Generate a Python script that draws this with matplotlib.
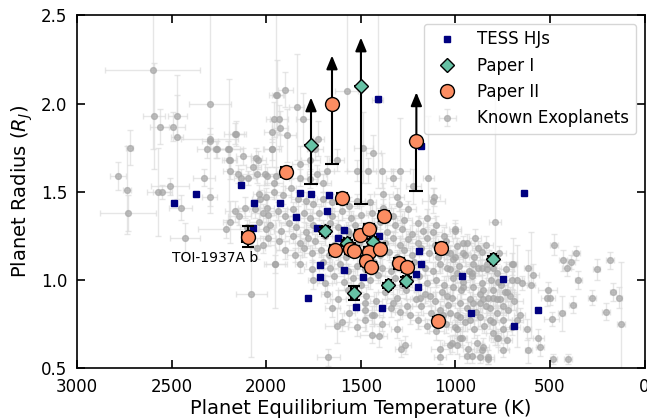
import matplotlib
matplotlib.use("Agg")
import matplotlib.pyplot as plt
import numpy as np

# ---------------- data ----------------
# Known exoplanets: (Teq, Rp, Teq_err, Rp_err)
known_left = [
    (2600, 2.19, 250, 0.45), (2298, 2.00, 110, 0.62), (2593, 1.93, 60, 0.30),
    (2471, 1.93, 50, 0.12), (2563, 1.87, 50, 0.10), (2491, 1.87, 60, 0.08),
    (2471, 1.81, 30, 0.35), (2159, 1.83, 40, 0.07), (2298, 1.80, 150, 0.06),
    (2264, 1.74, 50, 0.05), (2198, 1.74, 60, 0.40), (2195, 1.68, 40, 0.05),
    (2189, 1.62, 40, 0.05), (2722, 1.75, 20, 0.10), (2783, 1.59, 40, 0.08),
    (2736, 1.51, 20, 0.25), (2730, 1.38, 150, 0.10), (2570, 1.50, 60, 0.25),
    (2549, 1.50, 50, 0.04), (2508, 1.53, 100, 0.05), (2452, 1.41, 60, 0.07),
    (2429, 1.24, 80, 0.08), (2329, 1.58, 60, 0.05), (2298, 1.47, 40, 0.05),
    (2131, 1.58, 40, 0.05), (2052, 1.69, 30, 0.06), (2094, 1.58, 40, 0.04),
    (2048, 1.60, 50, 0.05), (2004, 1.60, 60, 0.06), (2038, 1.49, 30, 0.05),
    (2034, 1.46, 40, 0.05), (2110, 1.41, 40, 0.06), (1996, 1.41, 40, 0.05),
    (2166, 1.39, 50, 0.06), (2142, 1.36, 60, 0.05), (2189, 1.33, 40, 0.12),
    (2212, 1.29, 150, 0.05), (2018, 1.38, 60, 0.05), (2040, 1.33, 50, 0.05),
    (2001, 1.29, 40, 0.06), (1960, 1.55, 50, 0.05), (1948, 1.59, 40, 0.05),
    (2015, 1.20, 60, 0.05), (2048, 1.18, 40, 0.06), (1952, 1.09, 60, 0.25),
    (2078, 0.92, 80, 0.36), (1946, 2.05, 40, 0.50), (1960, 1.91, 40, 0.10),
    (1969, 1.74, 50, 0.10),
]
known_upper = [
    (1839, 1.98, 40, 0.30), (1574, 2.07, 60, 0.45), (1932, 1.91, 50, 0.08),
    (1927, 1.86, 40, 0.10), (1971, 1.84, 40, 0.06), (1892, 1.82, 50, 0.15),
    (1941, 2.05, 30, 0.20), (1900, 2.08, 40, 0.10), (2165, 1.83, 60, 0.06),
    (2200, 1.74, 80, 0.05), (2262, 1.74, 60, 0.05), (2314, 1.74, 50, 0.05),
    (2297, 1.79, 40, 0.04), (2191, 1.68, 30, 0.07), (2121, 1.70, 40, 0.05),
    (2147, 1.60, 50, 0.05), (2068, 1.64, 40, 0.06), (1997, 1.59, 50, 0.05),
    (1971, 1.74, 40, 0.06), (2042, 1.68, 40, 0.05), (1804, 1.91, 40, 0.15),
    (1742, 1.74, 40, 0.06), (1768, 1.68, 50, 0.05), (1821, 1.66, 40, 0.10),
    (1724, 1.80, 30, 0.10), (1680, 1.62, 40, 0.08), (1627, 1.68, 40, 0.06),
    (1733, 1.60, 50, 0.05), (1768, 1.57, 40, 0.05), (1698, 1.55, 40, 0.05),
    (1821, 1.58, 60, 0.05), (1486, 1.75, 50, 0.20), (1434, 1.72, 40, 0.10),
    (1521, 1.62, 50, 0.06), (1460, 1.62, 40, 0.07), (1389, 1.62, 60, 0.10),
    (1328, 1.58, 40, 0.05), (1292, 1.62, 50, 0.30), (1381, 1.49, 50, 0.06),
    (1310, 1.47, 40, 0.05), (1222, 1.53, 40, 0.10), (1143, 1.58, 30, 0.35),
    (1116, 1.45, 60, 0.07), (1410, 2.02, 30, 0.50), (1111, 1.47, 30, 0.05),
]
known_right = [
    (790, 1.33, 30, 0.70), (896, 1.24, 30, 0.05), (477, 1.20, 20, 0.06),
    (362, 1.15, 20, 0.04), (432, 1.11, 20, 0.06), (411, 1.07, 25, 0.05),
    (390, 1.10, 20, 0.04), (617, 1.07, 20, 0.10), (697, 1.09, 20, 0.15),
    (253, 1.06, 20, 0.06), (182, 1.11, 20, 0.05), (350, 1.00, 20, 0.05),
    (588, 1.03, 30, 0.06), (601, 0.97, 20, 0.30), (512, 0.94, 50, 0.05),
    (499, 0.90, 25, 0.04), (279, 0.90, 20, 0.04), (165, 0.93, 15, 0.05),
    (133, 0.90, 15, 0.06), (205, 0.82, 20, 0.05), (380, 0.86, 20, 0.05),
    (438, 0.81, 20, 0.10), (491, 0.78, 40, 0.04), (517, 0.90, 30, 0.05),
    (124, 0.75, 20, 0.35), (620, 0.72, 20, 0.06), (672, 0.77, 30, 0.15),
    (561, 0.67, 30, 0.05), (552, 0.62, 20, 0.05), (614, 0.60, 20, 0.07),
    (482, 0.55, 20, 0.03), (403, 0.55, 20, 0.03),
]
known_midright = [
    (1002, 1.29, 30, 0.05), (958, 1.21, 40, 0.04), (1028, 1.15, 30, 0.05),
    (1002, 1.13, 40, 0.04), (949, 1.14, 30, 0.06), (905, 1.09, 40, 0.05),
    (861, 1.07, 30, 0.04), (1046, 1.07, 40, 0.05), (993, 1.04, 30, 0.06),
    (914, 1.04, 40, 0.04), (834, 1.06, 30, 0.05), (799, 1.07, 40, 0.05),
    (702, 1.09, 30, 0.06), (676, 1.00, 40, 0.20), (773, 0.99, 30, 0.05),
    (728, 0.93, 40, 0.05), (799, 0.94, 30, 0.04), (852, 0.94, 30, 0.05),
    (905, 0.96, 40, 0.05), (958, 0.96, 30, 0.04), (1011, 0.96, 40, 0.06),
    (1046, 0.91, 30, 0.05), (975, 0.87, 40, 0.05), (905, 0.87, 30, 0.04),
    (852, 0.89, 40, 0.05), (764, 0.89, 30, 0.05), (817, 0.84, 40, 0.04),
    (870, 0.79, 30, 0.05), (922, 0.77, 40, 0.05), (975, 0.79, 30, 0.04),
    (1028, 0.81, 40, 0.05), (817, 0.77, 30, 0.05), (746, 0.72, 40, 0.06),
    (728, 0.66, 30, 0.05), (781, 0.67, 40, 0.04), (852, 0.62, 30, 0.05),
    (914, 0.57, 40, 0.04), (975, 0.67, 30, 0.05), (1028, 0.63, 40, 0.05),
    (931, 0.61, 30, 0.04), (870, 0.56, 40, 0.03), (826, 0.55, 30, 0.03),
]
known_bottom = [
    (1953, 1.09, 50, 0.05), (1627, 0.74, 60, 0.10), (1672, 0.56, 60, 0.05),
    (1442, 0.69, 60, 0.05), (1402, 0.68, 40, 0.06), (1289, 0.61, 30, 0.05),
    (1266, 0.63, 30, 0.05), (1081, 0.61, 50, 0.05), (1081, 0.56, 30, 0.04),
    (993, 0.63, 30, 0.05), (940, 0.57, 40, 0.04), (887, 0.64, 30, 0.05),
    (861, 0.60, 30, 0.04), (826, 0.56, 30, 0.04), (773, 0.67, 40, 0.05),
    (746, 0.60, 30, 0.04), (799, 0.76, 30, 0.05), (1063, 0.80, 40, 0.05),
    (993, 0.72, 30, 0.05), (966, 0.67, 30, 0.04), (1019, 0.64, 40, 0.05),
    (870, 0.87, 30, 0.05), (826, 0.90, 40, 0.04), (781, 0.89, 30, 0.05),
    (711, 0.91, 30, 0.05), (746, 0.85, 40, 0.05), (1328, 0.87, 40, 0.05),
    (1257, 0.85, 30, 0.04), (1187, 0.90, 40, 0.05), (1134, 0.91, 30, 0.05),
    (1478, 0.87, 50, 0.05), (1442, 0.80, 40, 0.05), (1478, 0.77, 40, 0.06),
]
known_dense = [
    (2000, 1.47, 40, 0.05), (1960, 1.50, 50, 0.04), (1910, 1.48, 40, 0.05),
    (1870, 1.52, 30, 0.05), (1830, 1.46, 40, 0.04), (1790, 1.45, 50, 0.05),
    (1750, 1.43, 40, 0.05), (1700, 1.46, 30, 0.04), (1650, 1.44, 40, 0.05),
    (1560, 1.42, 50, 0.05), (1520, 1.45, 40, 0.04), (1450, 1.44, 30, 0.05),
    (1380, 1.41, 40, 0.05), (1300, 1.43, 50, 0.04), (1250, 1.40, 40, 0.05),
    (2060, 1.40, 30, 0.05), (1990, 1.37, 40, 0.04), (1940, 1.39, 50, 0.05),
    (1900, 1.36, 40, 0.05), (1860, 1.40, 30, 0.04), (1800, 1.38, 40, 0.05),
    (1770, 1.35, 50, 0.05), (1720, 1.38, 40, 0.04), (1650, 1.36, 30, 0.05),
    (1600, 1.39, 40, 0.05), (1550, 1.35, 50, 0.04), (1500, 1.37, 40, 0.05),
    (1440, 1.38, 30, 0.05), (1400, 1.33, 40, 0.04), (1330, 1.36, 50, 0.05),
    (1270, 1.34, 40, 0.05), (1200, 1.32, 30, 0.04), (1150, 1.35, 40, 0.05),
    (1100, 1.31, 50, 0.05), (2100, 1.30, 40, 0.04), (1980, 1.31, 30, 0.05),
    (1920, 1.28, 40, 0.05), (1880, 1.32, 50, 0.04), (1840, 1.30, 40, 0.05),
    (1790, 1.27, 30, 0.05), (1750, 1.31, 40, 0.04), (1700, 1.29, 50, 0.05),
    (1660, 1.32, 40, 0.05), (1620, 1.30, 30, 0.04), (1570, 1.28, 40, 0.05),
    (1530, 1.31, 50, 0.05), (1480, 1.29, 40, 0.04), (1430, 1.30, 30, 0.05),
    (1360, 1.27, 40, 0.05), (1320, 1.31, 50, 0.04), (1280, 1.29, 40, 0.05),
    (1230, 1.26, 30, 0.05), (1170, 1.28, 40, 0.04), (1120, 1.27, 50, 0.05),
    (1060, 1.25, 40, 0.05), (1000, 1.28, 30, 0.04), (1990, 1.24, 40, 0.05),
    (1930, 1.22, 50, 0.05), (1860, 1.25, 40, 0.04), (1820, 1.21, 30, 0.05),
    (1780, 1.24, 40, 0.05), (1740, 1.22, 50, 0.04), (1690, 1.25, 40, 0.05),
    (1640, 1.20, 30, 0.05), (1600, 1.23, 40, 0.04), (1560, 1.26, 50, 0.05),
    (1510, 1.21, 40, 0.05), (1470, 1.24, 30, 0.04), (1420, 1.22, 40, 0.05),
    (1370, 1.21, 50, 0.05), (1330, 1.24, 40, 0.04), (1290, 1.20, 30, 0.05),
    (1250, 1.23, 40, 0.05), (1200, 1.21, 50, 0.04), (1150, 1.24, 40, 0.05),
    (1110, 1.20, 30, 0.05), (1050, 1.22, 40, 0.04), (990, 1.19, 50, 0.05),
    (940, 1.21, 40, 0.05), (880, 1.18, 30, 0.04), (840, 1.20, 40, 0.05),
    (1900, 1.17, 50, 0.05), (1850, 1.14, 40, 0.04), (1800, 1.18, 30, 0.05),
    (1760, 1.15, 40, 0.05), (1710, 1.17, 50, 0.04), (1670, 1.14, 40, 0.05),
    (1620, 1.16, 30, 0.05), (1580, 1.13, 40, 0.04), (1540, 1.19, 50, 0.05),
    (1490, 1.15, 40, 0.05), (1440, 1.17, 30, 0.04), (1400, 1.14, 40, 0.05),
    (1350, 1.16, 50, 0.05), (1310, 1.13, 40, 0.04), (1270, 1.17, 30, 0.05),
    (1230, 1.14, 40, 0.05), (1180, 1.18, 50, 0.04), (1140, 1.15, 40, 0.05),
    (1090, 1.13, 30, 0.05), (1050, 1.16, 40, 0.04), (1010, 1.12, 50, 0.05),
    (960, 1.15, 40, 0.05), (900, 1.13, 30, 0.04), (860, 1.16, 40, 0.05),
    (820, 1.12, 50, 0.05), (770, 1.15, 40, 0.04), (1820, 1.09, 30, 0.05),
    (1760, 1.06, 40, 0.05), (1700, 1.10, 50, 0.04), (1660, 1.07, 40, 0.05),
    (1610, 1.09, 30, 0.05), (1570, 1.05, 40, 0.04), (1520, 1.08, 50, 0.05),
    (1480, 1.06, 40, 0.05), (1430, 1.10, 30, 0.04), (1390, 1.07, 40, 0.05),
    (1340, 1.05, 50, 0.05), (1300, 1.09, 40, 0.04), (1260, 1.06, 30, 0.05),
    (1220, 1.10, 40, 0.05), (1160, 1.07, 50, 0.04), (1120, 1.05, 40, 0.05),
    (1080, 1.09, 30, 0.05), (1030, 1.06, 40, 0.04), (980, 1.08, 50, 0.05),
    (930, 1.05, 40, 0.05), (880, 1.07, 30, 0.04), (830, 1.09, 40, 0.05),
    (780, 1.04, 50, 0.05), (730, 1.06, 40, 0.04), (1750, 1.00, 30, 0.05),
    (1690, 0.98, 40, 0.05), (1640, 1.02, 50, 0.04), (1590, 0.99, 40, 0.05),
    (1540, 1.01, 30, 0.05), (1500, 0.97, 40, 0.04), (1450, 1.00, 50, 0.05),
    (1410, 1.03, 40, 0.05), (1360, 0.98, 30, 0.04), (1320, 1.01, 40, 0.05),
    (1280, 0.97, 50, 0.05), (1240, 1.00, 40, 0.04), (1190, 1.02, 30, 0.05),
    (1150, 0.98, 40, 0.05), (1100, 1.00, 50, 0.04), (1060, 0.97, 40, 0.05),
    (1010, 1.01, 30, 0.05), (960, 0.99, 40, 0.04), (910, 1.02, 50, 0.05),
    (860, 0.98, 40, 0.05), (810, 1.00, 30, 0.04), (760, 0.97, 40, 0.05),
    (700, 1.00, 50, 0.05), (650, 0.98, 40, 0.04), (1680, 0.92, 30, 0.05),
    (1620, 0.89, 40, 0.05), (1570, 0.94, 50, 0.04), (1470, 0.91, 40, 0.05),
    (1420, 0.88, 30, 0.05), (1370, 0.93, 40, 0.04), (1310, 0.90, 50, 0.05),
    (1260, 0.94, 40, 0.05), (1210, 0.89, 30, 0.04), (1160, 0.92, 40, 0.05),
    (1110, 0.88, 50, 0.05), (1070, 0.93, 40, 0.04), (1020, 0.90, 30, 0.05),
    (970, 0.94, 40, 0.05), (920, 0.89, 50, 0.04), (870, 0.92, 40, 0.05),
    (800, 0.90, 30, 0.05), (740, 0.93, 40, 0.04), (690, 0.88, 50, 0.05),
    (1650, 0.84, 40, 0.05), (1560, 0.81, 30, 0.05), (1480, 0.83, 40, 0.04),
    (1430, 0.80, 50, 0.05), (1340, 0.84, 40, 0.05), (1290, 0.82, 30, 0.04),
    (1240, 0.80, 40, 0.05), (1180, 0.85, 50, 0.05), (1130, 0.81, 40, 0.04),
    (1080, 0.83, 30, 0.05), (1040, 0.86, 40, 0.05), (990, 0.80, 50, 0.04),
    (940, 0.84, 40, 0.05), (890, 0.82, 30, 0.05), (840, 0.85, 40, 0.04),
    (780, 0.81, 50, 0.05), (720, 0.83, 40, 0.05), (660, 0.80, 30, 0.04),
    (1600, 0.76, 40, 0.05), (1520, 0.73, 50, 0.05), (1390, 0.75, 40, 0.04),
    (1310, 0.72, 30, 0.05), (1200, 0.77, 40, 0.05), (1150, 0.74, 50, 0.04),
    (1100, 0.71, 40, 0.05), (1050, 0.75, 30, 0.05), (1000, 0.73, 40, 0.04),
    (950, 0.76, 50, 0.05), (900, 0.72, 40, 0.05), (850, 0.74, 30, 0.04),
    (800, 0.70, 40, 0.05), (750, 0.77, 50, 0.05), (700, 0.73, 40, 0.04),
]

# TESS hot Jupiters
tess_T = [2486, 2371, 2133, 2063, 2071, 1927, 1820, 1761, 1668, 1841, 1680, 1730,
          1589, 1619, 1404, 1715, 1715, 1587, 1490, 1777, 1527, 1389, 1410, 1183,
          1192, 1181, 1208, 1197, 637, 965, 750, 919, 563, 690]
tess_R = [1.437, 1.486, 1.541, 1.437, 1.295, 1.437, 1.495, 1.486, 1.482, 1.357, 1.391, 1.297,
          1.282, 1.235, 1.250, 1.084, 1.017, 1.055, 1.014, 0.899, 0.848, 0.838, 2.024, 1.758,
          1.165, 1.089, 1.036, 0.961, 1.495, 1.020, 1.006, 0.810, 0.827, 0.736]

# Paper I (measured)
p1_T = [1689, 1574, 1434, 1536, 1354, 1261, 799]
p1_R = [1.278, 1.210, 1.216, 0.923, 0.970, 0.995, 1.121]
p1_Terr = [15, 15, 15, 15, 15, 15, 15]
p1_Rerr = [0.02, 0.015, 0.015, 0.04, 0.015, 0.02, 0.015]
# Paper I (lower limits -> arrows)
p1_lim_T = [1763, 1499]
p1_lim_R = [1.763, 2.098]
p1_lim_low = [1.542, 1.433]
p1_lim_top = [2.035, 2.375]

# Paper II (measured)
p2_T = [2098, 1895, 1597, 1378, 1506, 1456, 1636, 1557, 1536, 1458, 1398, 1474,
        1446, 1296, 1257, 1074, 1092]
p2_R = [1.245, 1.613, 1.462, 1.362, 1.254, 1.286, 1.169, 1.178, 1.165, 1.159, 1.178, 1.106,
        1.074, 1.093, 1.074, 1.182, 0.769]
p2_Terr = [30, 25, 25, 25, 25, 25, 25, 25, 25, 25, 25, 25, 25, 25, 25, 25, 15]
p2_Rerr = [0.06, 0.025, 0.03, 0.03, 0.03, 0.03, 0.03, 0.03, 0.03, 0.03, 0.03, 0.03,
           0.03, 0.03, 0.03, 0.03, 0.02]
# Paper II (lower limits -> arrows)
p2_lim_T = [1652, 1206]
p2_lim_R = [1.996, 1.786]
p2_lim_low = [1.660, 1.503]
p2_lim_top = [2.273, 2.064]

label_name = "TOI-1937A b"
label_T, label_R = 2268, 1.126

xticks = [3000, 2500, 2000, 1500, 1000, 500, 0]
yticks = [0.5, 1.0, 1.5, 2.0, 2.5]

# ---------------- plot ----------------
plt.rcParams['font.family'] = ['DejaVu Sans']
fig = plt.figure(figsize=(6.47, 4.19), dpi=100)
ax = fig.add_axes([77/647, 1-368/419, (644.5-77)/647, (368-15.5)/419])

known = known_left + known_upper + known_right + known_midright + known_bottom + known_dense
kT = np.array([k[0] for k in known])
kR = np.array([k[1] for k in known])
kTe = np.array([k[2] for k in known])
kRe = np.array([k[3] for k in known])

ax.errorbar(kT, kR, xerr=kTe, yerr=kRe, fmt='o', ms=4.2, color='#a6a6a6',
            mec='#a6a6a6', alpha=0.7, ecolor='#dcdcdc', elinewidth=1, capsize=2,
            zorder=1, label='Known Exoplanets')

ax.plot(tess_T, tess_R, 's', color='#000080', ms=4.2, ls='none', zorder=3, label='TESS HJs')

# error bars of papers
ax.errorbar(p1_T, p1_R, xerr=p1_Terr, yerr=p1_Rerr, fmt='none', ecolor='k',
            elinewidth=1.5, capsize=4, capthick=1.5, zorder=4)
ax.errorbar(p2_T, p2_R, xerr=p2_Terr, yerr=p2_Rerr, fmt='none', ecolor='k',
            elinewidth=1.5, capsize=4, capthick=1.5, zorder=4)

lim_T = p1_lim_T + p2_lim_T
lim_R = p1_lim_R + p2_lim_R
lim_low = p1_lim_low + p2_lim_low
lim_top = p1_lim_top + p2_lim_top
for t, r, lo, top in zip(lim_T, lim_R, lim_low, lim_top):
    ax.errorbar([t], [r], yerr=[[r - lo], [0]], fmt='none', ecolor='k',
                elinewidth=1.5, capsize=5, capthick=1.5, zorder=4)
    ax.annotate('', xy=(t, top), xytext=(t, r), zorder=4,
                arrowprops=dict(arrowstyle='-|>,head_length=0.8,head_width=0.33',
                                color='k', lw=1.5, mutation_scale=10,
                                shrinkA=0, shrinkB=0))

ax.plot(p1_T + p1_lim_T, p1_R + p1_lim_R, 'D', color='#66c2a5', mec='k', mew=1.0,
        ms=7, ls='none', zorder=5, label='Paper I')
ax.plot(p2_T + p2_lim_T, p2_R + p2_lim_R, 'o', color='#fc8d62', mec='k', mew=1.0,
        ms=10, ls='none', zorder=5, label='Paper II')

ax.text(label_T, label_R, label_name, fontsize=10, ha='center', va='center')

ax.set_xlim(3000, 0)
ax.set_ylim(0.5, 2.5)
ax.set_xticks(xticks)
ax.set_yticks(yticks)
ax.set_yticklabels([f"{v:.1f}" for v in yticks])
ax.tick_params(direction='in', top=True, right=True, length=6, width=1.2,
               labelsize=12, pad=7)
for s in ax.spines.values():
    s.set_linewidth(1.2)
ax.set_xlabel('Planet Equilibrium Temperature (K)', fontsize=14, labelpad=2)
ax.set_ylabel(r'Planet Radius ($R_J$)', fontsize=14, labelpad=4)

h, l = ax.get_legend_handles_labels()
order = [l.index('TESS HJs'), l.index('Paper I'), l.index('Paper II'), l.index('Known Exoplanets')]
ax.legend([h[i] for i in order], [l[i] for i in order], loc='upper right', fontsize=12)

fig.savefig('out.png', dpi=100)
